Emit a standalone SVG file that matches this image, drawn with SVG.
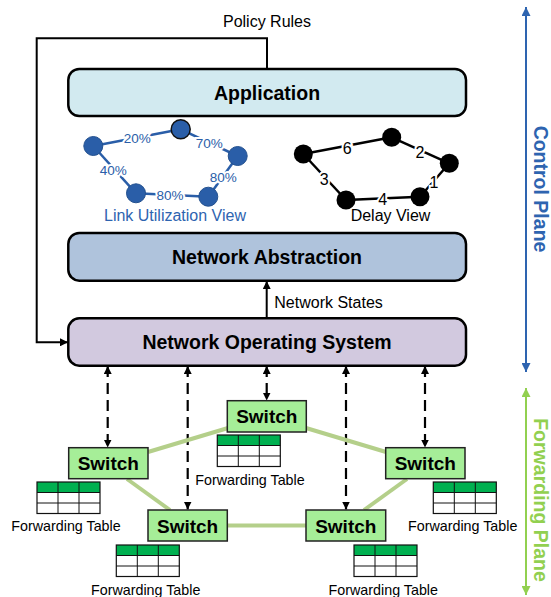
<svg xmlns="http://www.w3.org/2000/svg" width="551" height="597" viewBox="0 0 551 597">
<style>
text{font-family:"Liberation Sans",Arial,sans-serif;}
.box{stroke:#000;stroke-width:2.5;}
.title{font-weight:bold;font-size:19.5px;text-anchor:middle;fill:#000;}
.lbl{font-size:16px;fill:#000;}
.sw{fill:#A6EE98;stroke:#222;stroke-width:1.5;}
.swt{font-weight:bold;font-size:19px;text-anchor:middle;fill:#000;}
.ft{font-size:14.3px;text-anchor:middle;fill:#000;}
.dash{stroke:#000;stroke-width:2.2;stroke-dasharray:11 6;fill:none;marker-start:url(#ahs);marker-end:url(#ah);}
.glink{stroke:#B4CF8A;stroke-width:4;fill:none;}
.ul{stroke:#2A5EA8;stroke-width:2.5;}
.un{fill:#2A5EA8;stroke:#24518f;stroke-width:1;}
.ut{font-size:13.5px;fill:#2A5EA8;text-anchor:middle;stroke:#fff;stroke-width:4;paint-order:stroke;}
.dl{stroke:#000;stroke-width:2.5;}
.dt{font-size:16px;fill:#000;text-anchor:middle;stroke:#fff;stroke-width:4;paint-order:stroke;}
</style>
<defs>
<marker id="ah" viewBox="0 0 10 10" refX="10" refY="5" markerWidth="8" markerHeight="8" markerUnits="userSpaceOnUse" orient="auto"><path d="M0,0 L10,5 L0,10 z" fill="#000"/></marker>
<marker id="ahs" viewBox="0 0 10 10" refX="10" refY="5" markerWidth="8" markerHeight="8" markerUnits="userSpaceOnUse" orient="auto-start-reverse"><path d="M0,0 L10,5 L0,10 z" fill="#000"/></marker>
<marker id="ahb" viewBox="0 0 10 10" refX="10" refY="5" markerWidth="9" markerHeight="9" markerUnits="userSpaceOnUse" orient="auto-start-reverse"><path d="M0,0 L10,5 L0,10 z" fill="#2E64B0"/></marker>
<marker id="ahg" viewBox="0 0 10 10" refX="10" refY="5" markerWidth="9" markerHeight="9" markerUnits="userSpaceOnUse" orient="auto-start-reverse"><path d="M0,0 L10,5 L0,10 z" fill="#92D050"/></marker>
<g id="tbl">
<rect x="0" y="0" width="63" height="10.5" fill="#00B050"/>
<rect x="0" y="0" width="63" height="31.5" fill="none" stroke="#111" stroke-width="1.2"/>
<path d="M21,0 V31.5 M42,0 V31.5 M0,10.5 H63 M0,21 H63" stroke="#111" stroke-width="1" fill="none"/>
</g>
</defs>

<g id="connectors">
<path d="M267,69 V38.3 H36.7 V342.3 H68" fill="none" stroke="#000" stroke-width="2" marker-end="url(#ah)"/>
<line x1="266.7" y1="318" x2="266.7" y2="281" stroke="#000" stroke-width="2" marker-end="url(#ah)"/>
<line class="dash" x1="107.7" y1="366" x2="107.7" y2="447.5"/>
<line class="dash" x1="187.7" y1="366" x2="187.7" y2="509.5"/>
<line class="dash" x1="266.7" y1="366" x2="266.7" y2="400.5"/>
<line class="dash" x1="346" y1="366" x2="346" y2="509.5"/>
<line class="dash" x1="425" y1="366" x2="425" y2="447.5"/>
<line class="glink" x1="148" y1="452" x2="228" y2="428"/>
<line class="glink" x1="306" y1="428" x2="386" y2="452"/>
<line class="glink" x1="127" y1="479" x2="170" y2="510"/>
<line class="glink" x1="407" y1="479" x2="364" y2="510"/>
<line class="glink" x1="227" y1="525.5" x2="306" y2="525.5"/>
<line x1="526" y1="7" x2="526" y2="372" stroke="#2E64B0" stroke-width="2" marker-start="url(#ahb)" marker-end="url(#ahb)"/>
<line x1="526" y1="388" x2="526" y2="595" stroke="#92D050" stroke-width="2" marker-start="url(#ahg)" marker-end="url(#ahg)"/>
</g>

<text class="lbl" x="267" y="27" text-anchor="middle">Policy Rules</text>

<g id="application">
<rect class="box" x="68.3" y="69" width="397.7" height="47" rx="11" fill="#D2EAF0"/>
<text class="title" x="267" y="99.5">Application</text>
</g>

<g id="link-utilization-view">
<line class="ul" x1="93.3" y1="146" x2="180.7" y2="129.3"/>
<line class="ul" x1="180.7" y1="129.3" x2="237.7" y2="156"/>
<line class="ul" x1="237.7" y1="156" x2="208.3" y2="196.7"/>
<line class="ul" x1="208.3" y1="196.7" x2="136" y2="193.3"/>
<line class="ul" x1="136" y1="193.3" x2="93.3" y2="146"/>
<circle class="un" cx="93.3" cy="146" r="9.5"/>
<circle cx="180.7" cy="129.3" r="9.5" fill="#2A5EA8" stroke="#111" stroke-width="1.5"/>
<circle class="un" cx="237.7" cy="156" r="9.5"/>
<circle class="un" cx="208.3" cy="196.7" r="9.5"/>
<circle class="un" cx="136" cy="193.3" r="9.5"/>
<text class="ut" x="137.3" y="143">20%</text>
<text class="ut" x="209.3" y="147.5">70%</text>
<text class="ut" x="113.3" y="174.5">40%</text>
<text class="ut" x="223.3" y="181.5">80%</text>
<text class="ut" x="170" y="199.5">80%</text>
<text x="175" y="220.5" font-size="16px" fill="#2E64B0" text-anchor="middle">Link Utilization View</text>
</g>

<g id="delay-view">
<line class="dl" x1="303.3" y1="154" x2="391.7" y2="137.3"/>
<line class="dl" x1="391.7" y1="137.3" x2="449.3" y2="163.3"/>
<line class="dl" x1="449.3" y1="163.3" x2="420" y2="196.7"/>
<line class="dl" x1="420" y1="196.7" x2="346" y2="200"/>
<line class="dl" x1="346" y1="200" x2="303.3" y2="154"/>
<circle cx="303.3" cy="154" r="9.5" fill="#000"/>
<circle cx="391.7" cy="137.3" r="9.5" fill="#000"/>
<circle cx="449.3" cy="163.3" r="9.5" fill="#000"/>
<circle cx="420" cy="196.7" r="9.5" fill="#000"/>
<circle cx="346" cy="200" r="9.5" fill="#000"/>
<text class="dt" x="347.3" y="154">6</text>
<text class="dt" x="420" y="157.5">2</text>
<text class="dt" x="324.3" y="185">3</text>
<text class="dt" x="434" y="187.5">1</text>
<text class="dt" x="382.7" y="205">4</text>
<text x="390.5" y="220.5" font-size="16px" fill="#000" text-anchor="middle">Delay View</text>
</g>

<g id="network-abstraction">
<rect class="box" x="68.3" y="233" width="397.7" height="47.7" rx="11" fill="#AFC3DC"/>
<text class="title" x="267" y="264">Network Abstraction</text>
</g>

<text class="lbl" x="274.3" y="307.5">Network States</text>

<g id="network-operating-system">
<rect class="box" x="68.3" y="318.3" width="397.7" height="47.4" rx="11" fill="#D2C9DF"/>
<text class="title" x="267" y="349">Network Operating System</text>
</g>

<g id="switch-top">
<rect class="sw" x="227.3" y="400.7" width="79" height="31.3"/>
<text class="swt" x="266.8" y="423">Switch</text>
<use href="#tbl" x="217.3" y="435"/>
<text class="ft" x="250" y="485">Forwarding Table</text>
</g>

<g id="switch-left">
<rect class="sw" x="68.7" y="447.7" width="79.3" height="31"/>
<text class="swt" x="108.3" y="470">Switch</text>
<use href="#tbl" x="37" y="482"/>
<text class="ft" x="66" y="531">Forwarding Table</text>
</g>

<g id="switch-right">
<rect class="sw" x="385.7" y="447.7" width="79.3" height="31"/>
<text class="swt" x="425.3" y="470">Switch</text>
<use href="#tbl" x="433.3" y="482"/>
<text class="ft" x="462.7" y="531">Forwarding Table</text>
</g>

<g id="switch-bottom-left">
<rect class="sw" x="148" y="510" width="79.3" height="31"/>
<text class="swt" x="187.6" y="532.5">Switch</text>
<use href="#tbl" x="116.3" y="545"/>
<text class="ft" x="145.7" y="595">Forwarding Table</text>
</g>

<g id="switch-bottom-right">
<rect class="sw" x="306" y="510" width="79.7" height="31"/>
<text class="swt" x="345.8" y="532.5">Switch</text>
<use href="#tbl" x="354" y="545"/>
<text class="ft" x="383.3" y="595">Forwarding Table</text>
</g>

<text transform="translate(534,189) rotate(90)" font-weight="bold" font-size="19.5px" fill="#2E64B0" text-anchor="middle">Control Plane</text>
<text transform="translate(534,500) rotate(90)" font-weight="bold" font-size="19.5px" fill="#92D050" text-anchor="middle">Forwarding Plane</text>
</svg>
